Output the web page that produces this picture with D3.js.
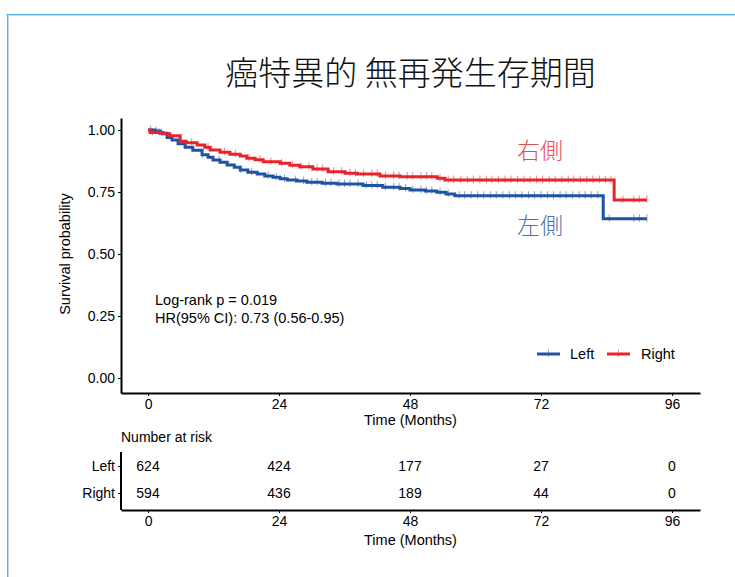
<!DOCTYPE html>
<html>
<head>
<meta charset="utf-8">
<script src="https://cdn.jsdelivr.net/npm/d3@7"></script>
<style>
  html, body { margin: 0; padding: 0; background: #fff; }
  svg { display: block; }
  text { font-family: "Liberation Sans", Arial, sans-serif; fill: #000; }
  .cjk { font-family: "Noto Sans CJK JP Light", "Noto Sans CJK JP", "Noto Sans CJK SC", sans-serif; }
</style>
</head>
<body>
<svg id="chart" width="735" height="577"></svg>
<script>
// ---- Kaplan–Meier estimates (months, survival probability) ----
const leftTimes = [0, 1.3, 2.2, 3.5, 4.4, 5.5, 6.8, 8.2, 9.9, 11, 11.9, 13.2, 14.5, 15.8, 16.9, 18.3, 20, 21.4, 22.9, 24.2, 25.5, 27.3, 29.1, 31.9, 34.6, 39.4, 43, 46.2, 48, 50.8, 52.9, 54.6, 56.2, 83.4];
const leftSurv  = [1.0, 0.996, 0.987, 0.97, 0.96, 0.945, 0.93, 0.918, 0.90, 0.89, 0.879, 0.87, 0.859, 0.85, 0.839, 0.83, 0.823, 0.815, 0.809, 0.803, 0.798, 0.794, 0.789, 0.785, 0.782, 0.776, 0.769, 0.764, 0.758, 0.754, 0.749, 0.742, 0.735, 0.642];
const leftEnd = 91.4;

const rightTimes = [0, 0.4, 2.7, 4, 5.9, 7, 9, 10.4, 11.4, 13.2, 15, 16.9, 18.1, 19.6, 21.1, 24.2, 26, 27.8, 30.2, 33, 36.1, 38.3, 42.5, 46.2, 53, 54.4, 85.4];
const rightSurv  = [1.0, 0.99, 0.985, 0.977, 0.955, 0.949, 0.94, 0.93, 0.919, 0.91, 0.902, 0.895, 0.886, 0.88, 0.872, 0.866, 0.858, 0.852, 0.843, 0.832, 0.826, 0.823, 0.815, 0.812, 0.805, 0.798, 0.718];
const rightEnd = 91.4;

// censored observations (months)
const leftCensor = [0.5, 1.5, 2.5, 10, 13, 17, 19, 22, 23.5, 25, 27, 28.5, 30, 31, 32.5, 33.5, 35, 36, 37, 38.5, 40, 41, 42, 43.5, 45, 46, 47.2, 48.5, 50, 51, 52, 53.5, 55, 57, 58, 59.2, 60.4, 61.5, 62.7, 63.8, 65, 66.2, 67.3, 68.5, 69.7, 70.8, 72, 73.2, 74.3, 75.5, 76.6, 77.8, 79, 80.1, 81.2, 82.4, 84.5, 89, 90, 91.4];
const rightCensor = [0.8, 2, 8, 11, 14, 16, 18.5, 20.5, 22.5, 24.5, 26.5, 28, 29.5, 31, 32, 34, 35.5, 37, 38, 39.5, 41, 42, 43.5, 45, 46, 47.5, 48.5, 50, 51, 52, 53.5, 55, 56, 57.3, 58.5, 59.6, 60.8, 62, 63, 64.2, 65.4, 66.5, 67.7, 68.9, 70, 71.2, 72.3, 73.5, 74.6, 75.8, 77, 78, 79.2, 80.4, 81.5, 82.7, 83.8, 84.8, 87, 89, 90, 91.4];

// axis ticks
const xTicks = [0, 24, 48, 72, 96];
const yTicks = [0, 0.25, 0.5, 0.75, 1.0];

// number at risk table
const riskGroups = ["Left", "Right"];
const riskLeft  = [624, 424, 177, 27, 0];
const riskRight = [594, 436, 189, 44, 0];

// labels
const titleText = "癌特異的 無再発生存期間";
const groupNames = ["左側", "右側"];
const legendLabels = ["Left", "Right"];
const statLines = ["Log-rank p = 0.019", "HR(95% CI): 0.73 (0.56-0.95)"];

const colors = { Left: "#2153a3", Right: "#e8232b" };
const labelColors = { Left: "#4d71b6", Right: "#e94c52" };

// ---- layout ----
const svg = d3.select("#chart");

// frame
svg.append("line").attr("x1", 6).attr("x2", 735).attr("y1", 14.5).attr("y2", 14.5)
  .attr("stroke", "#5db6e5").attr("stroke-width", 1);
svg.append("line").attr("x1", 8).attr("x2", 735).attr("y1", 15.5).attr("y2", 15.5)
  .attr("stroke", "#b2e0f5").attr("stroke-width", 1);
svg.append("line").attr("x1", 7.5).attr("x2", 7.5).attr("y1", 14).attr("y2", 577)
  .attr("stroke", "#5db6e5").attr("stroke-width", 1);
svg.append("line").attr("x1", 8.5).attr("x2", 8.5).attr("y1", 16).attr("y2", 577)
  .attr("stroke", "#b2e0f5").attr("stroke-width", 1);

const x = d3.scaleLinear().domain([-4.95, 101.13]).range([121, 700]);
const y = d3.scaleLinear().domain([-0.0605, 1.0484]).range([393, 118]);

// title
svg.append("text").attr("class", "cjk")
  .attr("x", 410.5).attr("y", 85)
  .attr("text-anchor", "middle")
  .style("font-size", "33px").style("font-weight", 300)
  .style("fill", "#111")
  .text(titleText);

// axes
function styleAxis(g) {
  g.select(".domain").attr("stroke", "#000").attr("stroke-width", 2);
  g.selectAll(".tick line").attr("stroke", "#000").attr("stroke-width", 1);
  g.selectAll(".tick text").style("font-size", "14px").attr("fill", "#000")
    .style("font-family", "Liberation Sans, Arial, sans-serif");
}

svg.append("g").attr("transform", "translate(0,393)")
  .call(d3.axisBottom(x).tickValues(xTicks).tickFormat(d3.format("d")).tickSize(3).tickSizeOuter(0).tickPadding(3))
  .call(styleAxis);

svg.append("g").attr("transform", "translate(121,0)")
  .call(d3.axisLeft(y).tickValues(yTicks).tickFormat(d3.format(".2f")).tickSize(3).tickSizeOuter(0).tickPadding(3))
  .call(styleAxis);

svg.append("text").attr("x", 410.5).attr("y", 425)
  .attr("text-anchor", "middle").style("font-size", "14.5px").text("Time (Months)");

svg.append("text")
  .attr("transform", "translate(70,254) rotate(-90)")
  .attr("text-anchor", "middle").style("font-size", "14.5px").text("Survival probability");

// survival curves
const series = [
  { key: "Left", times: leftTimes, surv: leftSurv, end: leftEnd, censor: leftCensor },
  { key: "Right", times: rightTimes, surv: rightSurv, end: rightEnd, censor: rightCensor }
];

const line = d3.line().curve(d3.curveStepAfter).x(d => x(d[0])).y(d => y(d[1]));

function survAt(s, t) {
  let v = s.surv[0];
  for (let i = 0; i < s.times.length; i++) if (s.times[i] <= t) v = s.surv[i];
  return v;
}

series.forEach(s => {
  const pts = s.times.map((t, i) => [t, s.surv[i]]);
  pts.push([s.end, s.surv[s.surv.length - 1]]);
  svg.append("path").datum(pts)
    .attr("d", line)
    .attr("fill", "none")
    .attr("stroke", colors[s.key])
    .attr("stroke-width", 3);
  svg.append("g").selectAll("line").data(s.censor).join("line")
    .attr("x1", d => x(d)).attr("x2", d => x(d))
    .attr("y1", d => y(survAt(s, d)) - 4.5)
    .attr("y2", d => y(survAt(s, d)) + 3)
    .attr("stroke", colors[s.key])
    .attr("stroke-opacity", 0.55)
    .attr("stroke-width", 1);
});

// group labels
svg.append("text").attr("class", "cjk")
  .attr("x", 540).attr("y", 159).attr("text-anchor", "middle")
  .style("font-size", "23px").style("font-weight", 300)
  .style("fill", labelColors.Right)
  .text(groupNames[1]);
svg.append("text").attr("class", "cjk")
  .attr("x", 540).attr("y", 234).attr("text-anchor", "middle")
  .style("font-size", "23px").style("font-weight", 300)
  .style("fill", labelColors.Left)
  .text(groupNames[0]);

// statistics
statLines.forEach((t, i) => {
  svg.append("text").attr("x", 155).attr("y", 305 + i * 17.5)
    .style("font-size", "14.5px").text(t);
});

// legend
const legendItems = [
  { key: "Left", label: legendLabels[0], x0: 537, tx: 570 },
  { key: "Right", label: legendLabels[1], x0: 607, tx: 641 }
];
legendItems.forEach(d => {
  svg.append("line").attr("x1", d.x0).attr("x2", d.x0 + 23).attr("y1", 354).attr("y2", 354)
    .attr("stroke", colors[d.key]).attr("stroke-width", 3);
  svg.append("line").attr("x1", d.x0 + 11.5).attr("x2", d.x0 + 11.5).attr("y1", 349.5).attr("y2", 357)
    .attr("stroke", colors[d.key]).attr("stroke-opacity", 0.45).attr("stroke-width", 1);
  svg.append("text").attr("x", d.tx).attr("y", 359).style("font-size", "14.5px").text(d.label);
});

// ---- number at risk table ----
svg.append("text").attr("x", 121).attr("y", 442).style("font-size", "14px").text("Number at risk");

const yr = d3.scalePoint().domain(riskGroups).range([466, 493]);

svg.append("g").attr("transform", "translate(0,510)")
  .call(d3.axisBottom(x).tickValues(xTicks).tickFormat(d3.format("d")).tickSize(3).tickSizeOuter(0).tickPadding(3))
  .call(styleAxis);

const yAxisR = svg.append("g").attr("transform", "translate(121,0)")
  .call(d3.axisLeft(yr).tickSize(3).tickSizeOuter(0).tickPadding(3))
  .call(styleAxis);
yAxisR.select(".domain").attr("d", "M0,452V510");

const riskRows = { Left: riskLeft, Right: riskRight };
riskGroups.forEach(g => {
  svg.append("g").selectAll("text").data(riskRows[g]).join("text")
    .attr("x", (d, i) => x(xTicks[i]))
    .attr("y", yr(g) + 5)
    .attr("text-anchor", "middle")
    .style("font-size", "14px")
    .text(d => d);
});

svg.append("text").attr("x", 410.5).attr("y", 545)
  .attr("text-anchor", "middle").style("font-size", "14.5px").text("Time (Months)");
</script>
</body>
</html>
